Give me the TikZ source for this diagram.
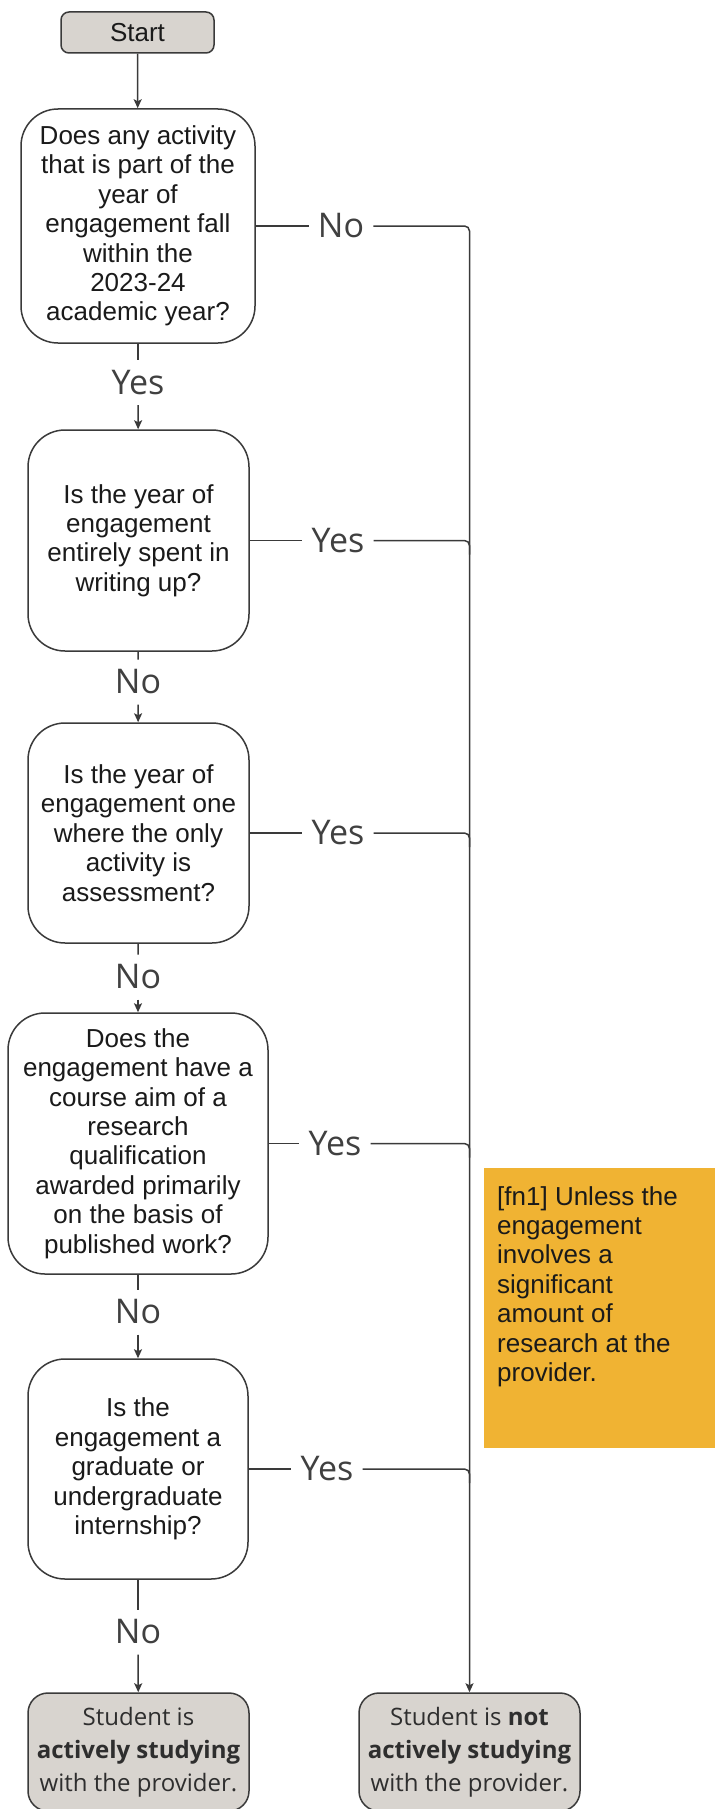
\documentclass[tikz,border=0pt]{standalone}
\usepackage{fontspec}
\setmainfont{Liberation Sans}
\newfontfamily\osans{Open Sans}
\usetikzlibrary{arrows.meta}
\definecolor{linegray}{HTML}{3A3A3A}
\definecolor{termfill}{HTML}{D8D4CF}
\definecolor{notefill}{HTML}{F0B333}
\definecolor{txt}{HTML}{1A1A1A}
\definecolor{lbl}{HTML}{404040}
\definecolor{termtxt}{HTML}{2E2E2E}

\begin{document}
\begin{tikzpicture}[x=1pt,y=-1pt,
  conn/.style={draw=linegray, line width=1.5pt},
  arr/.style={conn, -{Stealth[length=9pt,width=8pt,inset=2pt]}},
  question/.style={draw=linegray, line width=1.5pt, rounded corners=37pt, fill=white,
    align=center, text=txt, font=\fontsize{26}{29.4}\selectfont, inner sep=0pt},
  terminal/.style={draw=linegray, line width=1.5pt, fill=termfill, align=center, inner sep=0pt},
  endbox/.style={terminal, rounded corners=20pt, minimum width=221pt, minimum height=118pt,
    text=termtxt, font=\osans\fontsize{24}{33}\selectfont},
  answer/.style={font=\osans\fontsize{34}{36}\selectfont, text=lbl, inner xsep=9pt, inner ysep=10pt},
]
\fill[white] (0,0) rectangle (715,1809);
\useasboundingbox (0,0) rectangle (715,1809);

% process boxes
\node[terminal, rounded corners=8pt, minimum width=153pt, minimum height=41pt,
  text=txt, font=\fontsize{26}{30}\selectfont] (start) at (137.5,32.5) {Start};
\node[question, minimum width=234pt, minimum height=234pt] (q1) at (138,226)
  {Does any activity\\that is part of the\\year of\\engagement fall\\within the\\2023-24\\academic year?};
\node[question, minimum width=221pt, minimum height=221pt] (q2) at (138.5,540.5)
  {Is the year of\\engagement\\entirely spent in\\writing up?};
\node[question, minimum width=221pt, minimum height=220pt] (q3) at (138.5,833)
  {Is the year of\\engagement one\\where the only\\activity is\\assessment?};
\node[question, minimum width=260pt, minimum height=261pt] (q4) at (138,1143.5)
  {Does the\\engagement have a\\course aim of a\\research\\qualification\\awarded primarily\\on the basis of\\published work?};
\node[question, minimum width=220pt, minimum height=220pt] (q5) at (138,1469)
  {Is the\\engagement a\\graduate or\\undergraduate\\internship?};
\node[endbox] (endA) at (138.5,1752)
  {Student is\\\textbf{actively studying}\\with the provider.};
\node[endbox] (endB) at (469.5,1752)
  {Student is \textbf{not}\\\textbf{actively studying}\\with the provider.};

% footnote
\node[fill=notefill, minimum width=231pt, minimum height=280pt, inner sep=0pt,
  anchor=north west] (note) at (484,1168) {};
\node[anchor=north west, align=left, inner sep=0pt, text=txt,
  font=\fontsize{26}{29.4}\selectfont] (notetext) at (497,1186)
  {[fn1] Unless the\\engagement\\involves a\\significant\\amount of\\research at the\\provider.};

% answer labels
\node[answer] (a1) at (138,382.5) {Yes};
\node[answer] (a2) at (138,682) {No};
\node[answer] (a3) at (138,977) {No};
\node[answer] (a4) at (138,1312) {No};
\node[answer] (a5) at (138,1632) {No};
\node[answer] (b1) at (341,226) {No};
\node[answer] (b2) at (338,540.5) {Yes};
\node[answer] (b3) at (338,833) {Yes};
\node[answer] (b4) at (335,1143.5) {Yes};
\node[answer] (b5) at (327,1469) {Yes};

% main column
\draw[arr] (start) -- (q1);
\draw[conn] (q1) -- (a1);
\draw[arr] (a1) -- (q2);
\draw[conn] (q2) -- (a2);
\draw[arr] (a2) -- (q3);
\draw[conn] (q3) -- (a3);
\draw[arr] (a3) -- (q4);
\draw[conn] (q4) -- (a4);
\draw[arr] (a4) -- (q5);
\draw[conn] (q5) -- (a5);
\draw[arr] (a5) -- (endA);

% side branches
\draw[conn] (q1) -- (b1);
\draw[arr, rounded corners=5pt] (b1) -| (endB);
\draw[conn] (q2) -- (b2);
\draw[conn, rounded corners=5pt] (b2) -- (b2 -| endB) -- ++(0,14);
\draw[conn] (q3) -- (b3);
\draw[conn, rounded corners=5pt] (b3) -- (b3 -| endB) -- ++(0,14);
\draw[conn] (q4) -- (b4);
\draw[conn, rounded corners=5pt] (b4) -- (b4 -| endB) -- ++(0,14);
\draw[conn] (q5) -- (b5);
\draw[conn, rounded corners=5pt] (b5) -- (b5 -| endB) -- ++(0,14);
\end{tikzpicture}
\end{document}
